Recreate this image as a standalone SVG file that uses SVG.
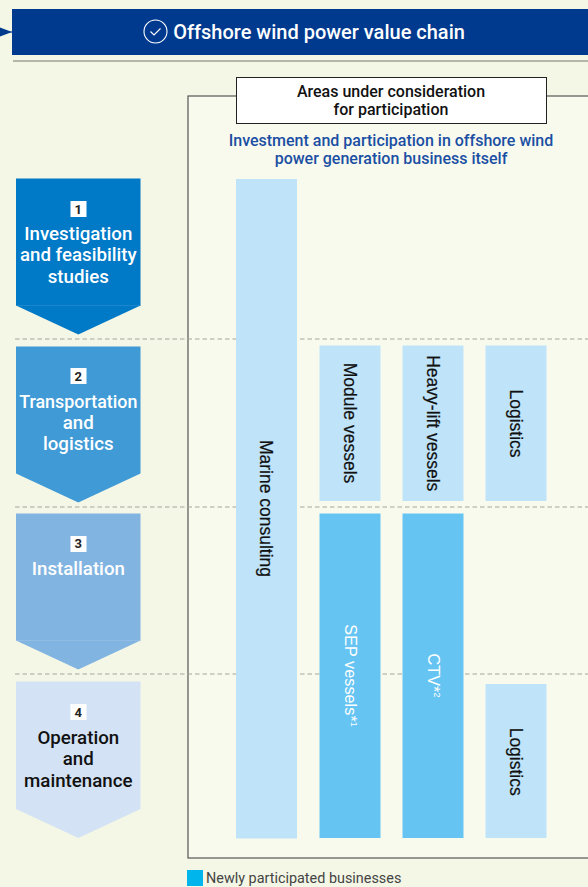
<svg xmlns="http://www.w3.org/2000/svg" width="588" height="887" viewBox="0 0 588 887">
<style>
text{font-family:Roboto,"Liberation Sans",sans-serif;text-anchor:middle}
.st{font-size:18.700px;font-weight:500;fill:#fff}
.sd{fill:#111;font-size:18.700px;font-weight:500}
.n{font-size:13px;font-weight:700;fill:#222}
.b{font-family:"Liberation Sans",Arial,sans-serif;font-size:17.500px;fill:#111;stroke:#111;stroke-width:0.200}
.w{font-family:"Liberation Sans",Arial,sans-serif;font-size:16.300px;fill:#fff}
.lb{fill:#bfe3f8}.nb{fill:#66c4f2}
.dash{stroke:#a5a59b;stroke-width:1;stroke-dasharray:4.500 3;fill:none}
</style>
<defs>
<marker id="tri" markerUnits="userSpaceOnUse" markerWidth="13" markerHeight="10" refX="13" refY="5" orient="auto"><path d="M0 0L13 5L0 10Z" fill="#003a8f"/></marker>
</defs>
<rect width="588" height="887" fill="#f4f7e6"/>
<g id="header">
<rect x="12" y="9" width="576" height="46" fill="#003a8f"/>
<circle cx="155.500" cy="31.500" r="11.500" fill="none" stroke="#fff" stroke-width="1.100"/>
<path d="M150.500 31.500L154 35L160.500 28.500" fill="none" stroke="#fff" stroke-width="1.100"/>
<text x="319" y="38.500" font-size="20" font-weight="500" fill="#fff">Offshore wind power value chain</text>
</g>
<rect id="panel" x="188" y="96" width="410" height="762" fill="#f9faee" stroke="#555" stroke-width="1.200"/>
<g id="connectors">
<line x1="0" y1="32" x2="12" y2="32" stroke="#003a8f" stroke-width="1" marker-end="url(#tri)"/>
<line x1="13" y1="61" x2="588" y2="61" stroke="#77776e" stroke-width="1"/>
<line class="dash" x1="15" y1="339" x2="588" y2="339"/>
<line class="dash" x1="15" y1="507" x2="588" y2="507"/>
<line class="dash" x1="15" y1="674" x2="588" y2="674"/>
</g>
<g id="areas-title">
<rect x="236.500" y="77.500" width="310" height="46" fill="#fff" stroke="#222" stroke-width="1"/>
<text x="391" y="97" font-size="16" font-weight="500" fill="#111">Areas under consideration</text>
<text x="391" y="115" font-size="16" font-weight="500" fill="#111">for participation</text>
</g>
<g id="subtitle">
<text x="391" y="146" font-size="16" font-weight="500" fill="#1a4fa3">Investment and participation in offshore wind</text>
<text x="391" y="164" font-size="16" font-weight="500" fill="#1a4fa3">power generation business itself</text>
</g>
<g id="step-1">
<path d="M16 178.500H140.500V305.500L78.300 334.500L16 305.500Z" fill="#0079c7"/>
<path d="M16 305.500H140.500" stroke="#2a8ccf" stroke-width="0.700"/>
<rect x="70.500" y="201" width="16" height="16" fill="#fff"/>
<text class="n" x="78.300" y="214">1</text>
<text class="st" x="78.300" y="240">Investigation</text>
<text class="st" x="78.300" y="261">and feasibility</text>
<text class="st" x="78.300" y="283">studies</text>
</g>
<g id="step-2">
<path d="M16 346.500H140.500V473.500L78.300 502.500L16 473.500Z" fill="#3f9ad6"/>
<rect x="70.500" y="368" width="16" height="16" fill="#fff"/>
<text class="n" x="78.300" y="381">2</text>
<text class="st" x="78.300" y="408" style="font-size:17.900px">Transportation</text>
<text class="st" x="78.300" y="429">and</text>
<text class="st" x="78.300" y="450">logistics</text>
</g>
<g id="step-3">
<path d="M16 513.500H140.500V640.500L78.300 669.500L16 640.500Z" fill="#82b4e1"/>
<path d="M16 640.500H140.500" stroke="#98c2e6" stroke-width="0.700"/>
<rect x="70.500" y="536" width="16" height="16" fill="#fff"/>
<text class="n" x="78.300" y="548">3</text>
<text class="st" x="78.300" y="575">Installation</text>
</g>
<g id="step-4">
<path d="M16 681.500H140.500V809L78.300 838L16 809Z" fill="#d3e2f4"/>
<rect x="70.500" y="704" width="16" height="16" fill="#fff"/>
<text class="n" x="78.300" y="717">4</text>
<text class="sd" x="78.300" y="744">Operation</text>
<text class="sd" x="78.300" y="765">and</text>
<text class="sd" x="78.300" y="787">maintenance</text>
</g>
<g id="marine-consulting">
<rect class="lb" x="236" y="179" width="61" height="659.500"/>
<text class="b" transform="translate(260 508.500) rotate(90)">Marine consulting</text>
</g>
<g id="module-vessels">
<rect class="lb" x="319.500" y="345.500" width="61" height="155.500"/>
<text class="b" transform="translate(343.500 423) rotate(90)">Module vessels</text>
</g>
<g id="heavy-lift-vessels">
<rect class="lb" x="402.500" y="345.500" width="61" height="155.500"/>
<text class="b" transform="translate(426.800 423.300) rotate(90)">Heavy-lift vessels</text>
</g>
<g id="logistics-1">
<rect class="lb" x="485.500" y="345.500" width="61" height="155.500"/>
<text class="b" transform="translate(509.700 423.500) rotate(90)">Logistics</text>
</g>
<g id="sep-vessels">
<rect class="nb" x="319.500" y="513.500" width="61" height="324.500"/>
<text class="w" transform="translate(344.500 675.500) rotate(90)">SEP vessels*<tspan font-size="9" dy="-6">1</tspan></text>
</g>
<g id="ctv">
<rect class="nb" x="402.500" y="513.500" width="61" height="324.500"/>
<text class="w" transform="translate(428.300 675.500) rotate(90)">CTV*<tspan font-size="9" dy="-6">2</tspan></text>
</g>
<g id="logistics-2">
<rect class="lb" x="485.500" y="684" width="61" height="154"/>
<text class="b" transform="translate(510 761.700) rotate(90)">Logistics</text>
</g>
<g id="legend">
<rect x="187" y="870" width="16" height="16" fill="#00b4ec"/>
<text x="206" y="883" font-size="14.400" fill="#444" style="text-anchor:start">Newly participated businesses</text>
</g>
</svg>
